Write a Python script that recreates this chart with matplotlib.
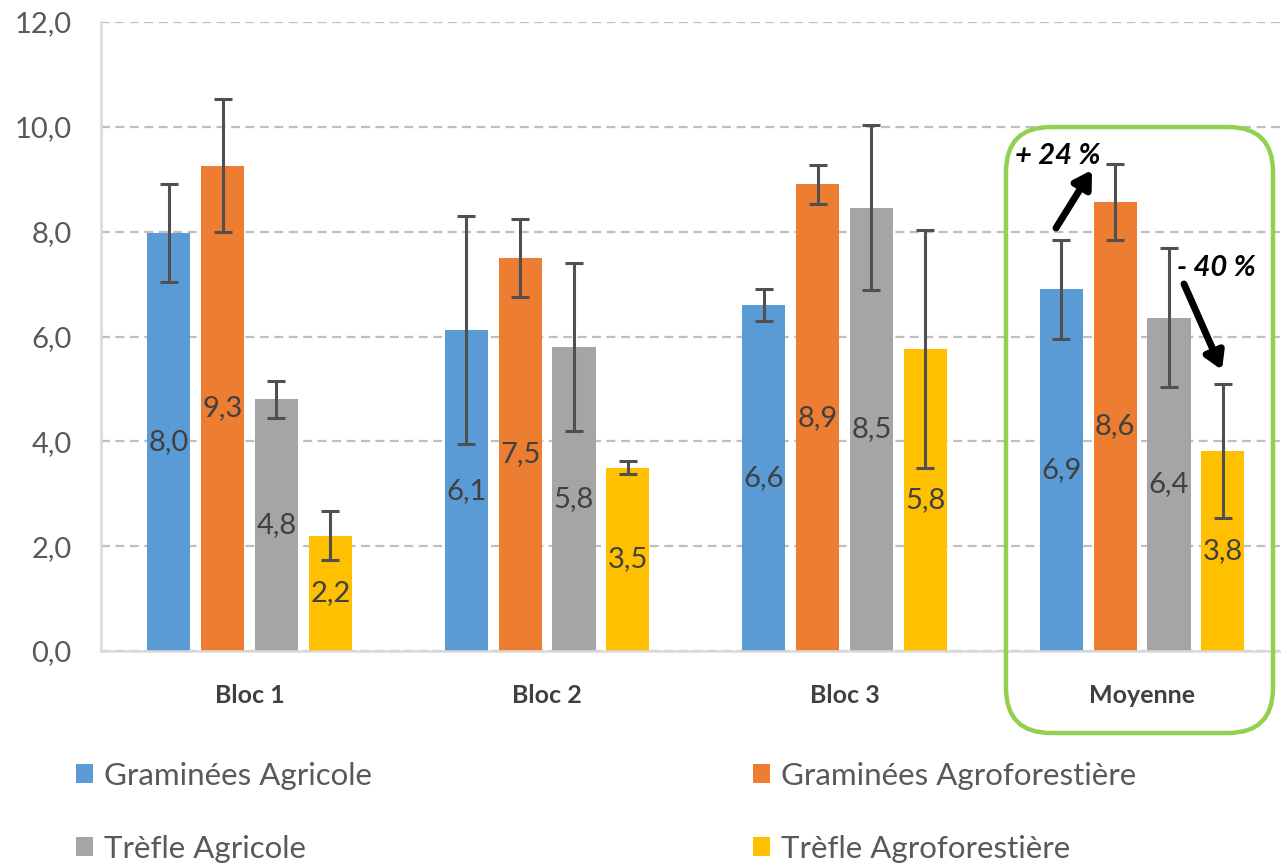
import matplotlib.pyplot as plt
import numpy as np
from matplotlib.patches import FancyBboxPatch

plt.rcParams['font.family'] = ['Lato', 'DejaVu Sans']

# data
groupes = ["Bloc 1", "Bloc 2", "Bloc 3", "Moyenne"]
series = ["Graminées Agricole", "Graminées Agroforestière",
          "Trèfle Agricole", "Trèfle Agroforestière"]
gram_agri = [7.97, 6.12, 6.60, 6.90]
gram_agro = [9.26, 7.50, 8.90, 8.57]
trefle_agri = [4.80, 5.80, 8.46, 6.36]
trefle_agro = [2.20, 3.50, 5.77, 3.82]
err_gram_agri = [0.93, 2.18, 0.30, 0.95]
err_gram_agro = [1.27, 0.74, 0.37, 0.73]
err_trefle_agri = [0.35, 1.60, 1.58, 1.32]
err_trefle_agro = [0.47, 0.13, 2.27, 1.28]

valeurs = [gram_agri, gram_agro, trefle_agri, trefle_agro]
erreurs = [err_gram_agri, err_gram_agro, err_trefle_agri, err_trefle_agro]
couleurs = ["#5B9BD5", "#ED7D31", "#A5A5A5", "#FFC000"]

fig = plt.figure(figsize=(12.81, 8.66), dpi=100)
ax = fig.add_axes([100.8 / 1281, 215 / 866, 1190 / 1281, 629 / 866])

x = np.arange(len(groupes))
step = 0.181
width = 0.145
handles = []
for i in range(4):
    pos = x + (i - 1.5) * step
    b = ax.bar(pos, valeurs[i], width, color=couleurs[i], zorder=2)
    handles.append(b)
    ax.errorbar(pos, valeurs[i], yerr=erreurs[i], fmt='none', ecolor="#505050",
                elinewidth=2.2, capsize=6.5, capthick=2.2, zorder=3)
    for p, v in zip(pos, valeurs[i]):
        ax.text(p, v / 2, f"{v:.1f}".replace(".", ","), ha='center', va='center',
                fontsize=21, color="#404040", zorder=4)

ax.set_xlim(-0.5, 3.5)
ax.set_ylim(0, 12)
ax.set_yticks(np.arange(0, 12.1, 2))
ax.set_yticklabels([f"{t:.1f}".replace(".", ",") for t in np.arange(0, 12.1, 2)])
ax.set_xticks(x)
ax.set_xticklabels(groupes, fontweight='bold')
ax.tick_params(axis='y', length=0, pad=21, labelsize=21, labelcolor="#595959")
ax.tick_params(axis='x', length=0, pad=24, labelsize=18, labelcolor="#404040")
ax.yaxis.grid(True, linestyle=(0, (4, 2.5)), color="#BFBFBF", linewidth=1.6, zorder=0)
ax.set_axisbelow(True)
for s in ["top", "right"]:
    ax.spines[s].set_visible(False)
ax.spines["left"].set_color("#D9D9D9")
ax.spines["left"].set_linewidth(1.8)
ax.spines["bottom"].set_color("#D9D9D9")
ax.spines["bottom"].set_linewidth(1.8)

# green frame around Moyenne
box = FancyBboxPatch((10.06, 1.33), 2.67, 6.06, boxstyle="round,pad=0,rounding_size=0.45",
                     transform=fig.dpi_scale_trans, fill=False, edgecolor="#92D050",
                     linewidth=3.2, clip_on=False, zorder=5)
fig.patches.append(box)

# arrows and percentages
arrow = dict(arrowstyle="-|>,head_length=1.0,head_width=0.6", color="black", lw=5,
             shrinkA=0, shrinkB=0)
ax.annotate("", xy=(1092, 866 - 170), xytext=(1056, 866 - 228),
            xycoords='figure pixels', textcoords='figure pixels', arrowprops=arrow)
ax.annotate("", xy=(1222, 866 - 370), xytext=(1184, 866 - 284),
            xycoords='figure pixels', textcoords='figure pixels', arrowprops=arrow)
fig.text(1058 / 1281, 1 - 156 / 866, "+ 24 %", ha='center', va='center',
         fontsize=21, fontweight='bold', fontstyle='italic', color='black')
fig.text(1216 / 1281, 1 - 268 / 866, "- 40 %", ha='center', va='center',
         fontsize=21, fontweight='bold', fontstyle='italic', color='black')

# legend filled row by row like the original
ordre = [0, 2, 1, 3]
fig.legend([handles[k] for k in ordre], [series[k] for k in ordre],
           loc='upper left', bbox_to_anchor=(63 / 1281, 1 - 749 / 866),
           ncol=2, frameon=False, fontsize=22.5, labelcolor="#595959",
           handlelength=0.55, handleheight=0.55, handletextpad=0.35,
           columnspacing=12.2, labelspacing=1.45, borderaxespad=0)

fig.savefig("out.png", dpi=100)
